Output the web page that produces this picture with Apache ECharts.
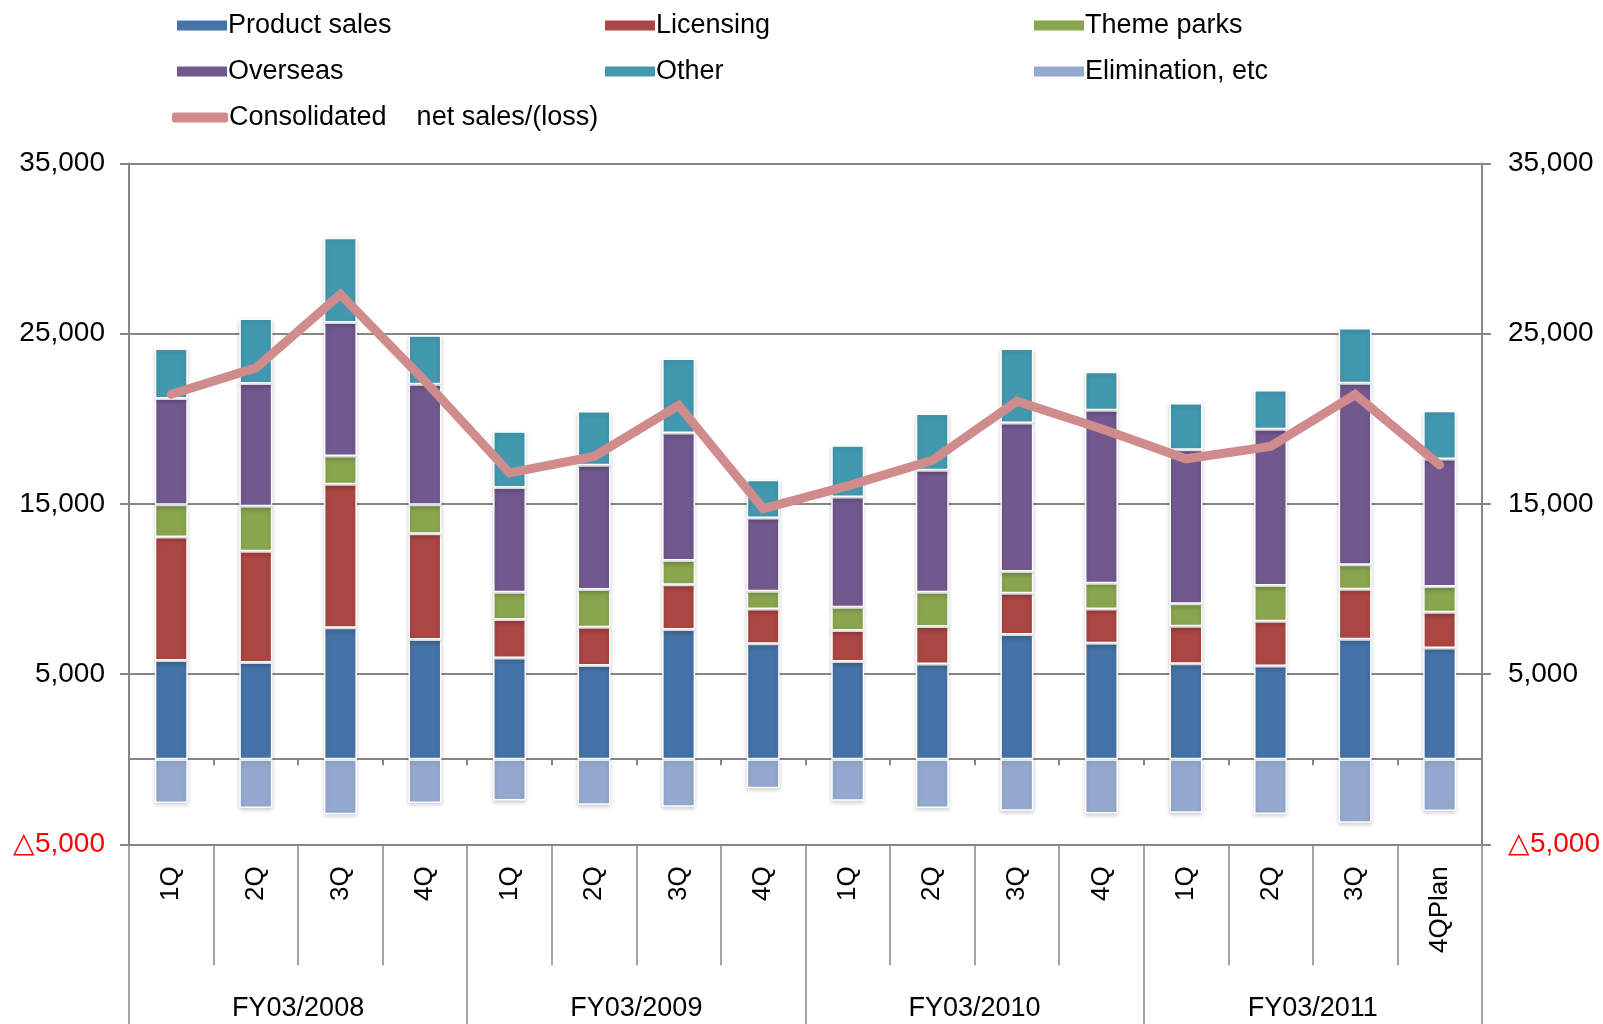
<!DOCTYPE html>
<html><head><meta charset="utf-8">
<script src="https://cdn.jsdelivr.net/npm/echarts@6/dist/echarts.min.js"></script>
<style>html,body{margin:0;padding:0;background:#fff}#c{width:1603px;height:1024px}</style>
</head><body><div id="c"></div>
<script>
const categories = ['1Q','2Q','3Q','4Q','1Q','2Q','3Q','4Q','1Q','2Q','3Q','4Q','1Q','2Q','3Q','4QPlan'];
const groups = ['FY03/2008','FY03/2009','FY03/2010','FY03/2011'];
const productSales = [5800,5680,7720,7030,5950,5500,7620,6780,5740,5600,7320,6810,5610,5480,7050,6530];
const licensing    = [7250,6540,8430,6220,2260,2250,2630,2050,1820,2190,2430,2020,2200,2630,2940,2100];
const themeParks   = [1900,2640,1660,1700,1600,2220,1430,1040,1370,2020,1280,1510,1330,2090,1430,1510];
const overseas     = [6240,7210,7850,7080,6160,7300,7490,4300,6470,7160,8720,10160,9040,9180,10670,7500];
const other        = [2940,3820,4980,2880,3300,3190,4370,2250,3040,3340,4380,2260,2750,2310,3250,2830];
const elimination  = [-2580,-2870,-3230,-2580,-2420,-2680,-2790,-1700,-2440,-2870,-3030,-3190,-3150,-3220,-3740,-3050];
const consolidated = [21440,22990,27310,22220,16820,17790,20790,14720,16060,17560,21030,19420,17650,18380,21420,17290];

const names = ['Product sales','Licensing','Theme parks','Overseas','Other','Elimination, etc','Consolidated    net sales/(loss)'];
const colors = ['#4572A7','#AA4643','#89A54E','#71588F','#4198AF','#93A9CF','#D08C8C'];
const FONT = "'Liberation Sans', Arial, sans-serif";
const GRAY = '#868686';

function fmt(v){
  const a = Math.abs(v).toString().replace(/\B(?=(\d{3})+(?!\d))/g, ',');
  return v < 0 ? '\u25B3' + a : a;
}

const barData = [productSales, licensing, themeParks, overseas, other, elimination];
const series = barData.map((d, i) => ({
  name: names[i], type: 'bar', stack: 'total', data: d,
  xAxisIndex: 0, yAxisIndex: 0, barWidth: 33,
  itemStyle: {color: colors[i], borderColor: '#fff', borderWidth: 1.5,
    shadowColor: 'rgba(0,0,0,0.18)', shadowBlur: 4, shadowOffsetY: 2}
}));
series.push({
  name: names[6], type: 'line', data: consolidated, xAxisIndex: 0, yAxisIndex: 0,
  symbol: 'none', z: 5,
  lineStyle: {color: colors[6], width: 9, cap: 'round', join: 'miter'},
  itemStyle: {color: colors[6]}
});

const legendPos = [
  [172, 7], [600, 7], [1029, 7],
  [172, 53], [600, 53], [1029, 53],
  [167, 99]
];
const legends = [0,1,2,3,4,5,6].map((k, i) => ({
  left: legendPos[i][0], top: legendPos[i][1], selectedMode: false,
  itemWidth: k === 6 ? 56 : 50, itemHeight: 10, itemGap: 0,
  textStyle: {fontFamily: FONT, fontSize: 27, color: '#000', padding: [0,0,0,-4]},
  data: [{name: names[k], icon: k === 6 ? 'roundRect' : 'rect',
          itemStyle: {color: colors[k], borderWidth: 0}}]
}));

function yAxisDef(pos, margin, split){
  return {
    type: 'value', min: -5000, max: 35000, interval: 10000, position: pos,
    axisLine: {show: true, lineStyle: {color: GRAY, width: 2}},
    axisTick: {show: true, length: 9, lineStyle: {color: GRAY, width: 2}},
    axisLabel: {fontFamily: FONT, fontSize: 28, margin: margin,
      formatter: v => fmt(v), color: v => (v < 0 ? '#FF0000' : '#000')},
    splitLine: {show: split, lineStyle: {color: GRAY, width: 2}}
  };
}

const option = {
  backgroundColor: '#fff',
  animation: false,
  legend: legends,
  grid: {left: 129, right: 119, top: 163.5, bottom: 179.7, containLabel: false},
  xAxis: [
    {type: 'category', data: categories, position: 'bottom',
     axisLine: {show: true, onZero: true, lineStyle: {color: GRAY, width: 2}},
     axisTick: {show: true, length: 6, interval: 0, lineStyle: {color: GRAY, width: 2}},
     axisLabel: {show: false}, splitLine: {show: false}},
    {type: 'category', data: categories, position: 'bottom',
     axisLine: {show: true, onZero: false, lineStyle: {color: GRAY, width: 2}},
     axisTick: {show: true, length: 121, interval: 0, lineStyle: {color: GRAY, width: 1.5}},
     axisLabel: {show: true, interval: 0, rotate: 90, margin: 22, fontFamily: FONT, fontSize: 26, color: '#000'},
     splitLine: {show: false}},
    {type: 'category', data: groups, position: 'bottom',
     axisLine: {show: false, onZero: false},
     axisTick: {show: true, length: 180, interval: 0, lineStyle: {color: GRAY, width: 1.5}},
     axisLabel: {show: true, interval: 0, margin: 151, fontFamily: FONT, fontSize: 27, color: '#000'},
     splitLine: {show: false}}
  ],
  yAxis: [yAxisDef('left', 24, true), yAxisDef('right', 26, false)],
  series: series
};

const chart = echarts.init(document.getElementById('c'), null, {renderer: 'canvas'});
chart.setOption(option);
</script>
</body></html>
